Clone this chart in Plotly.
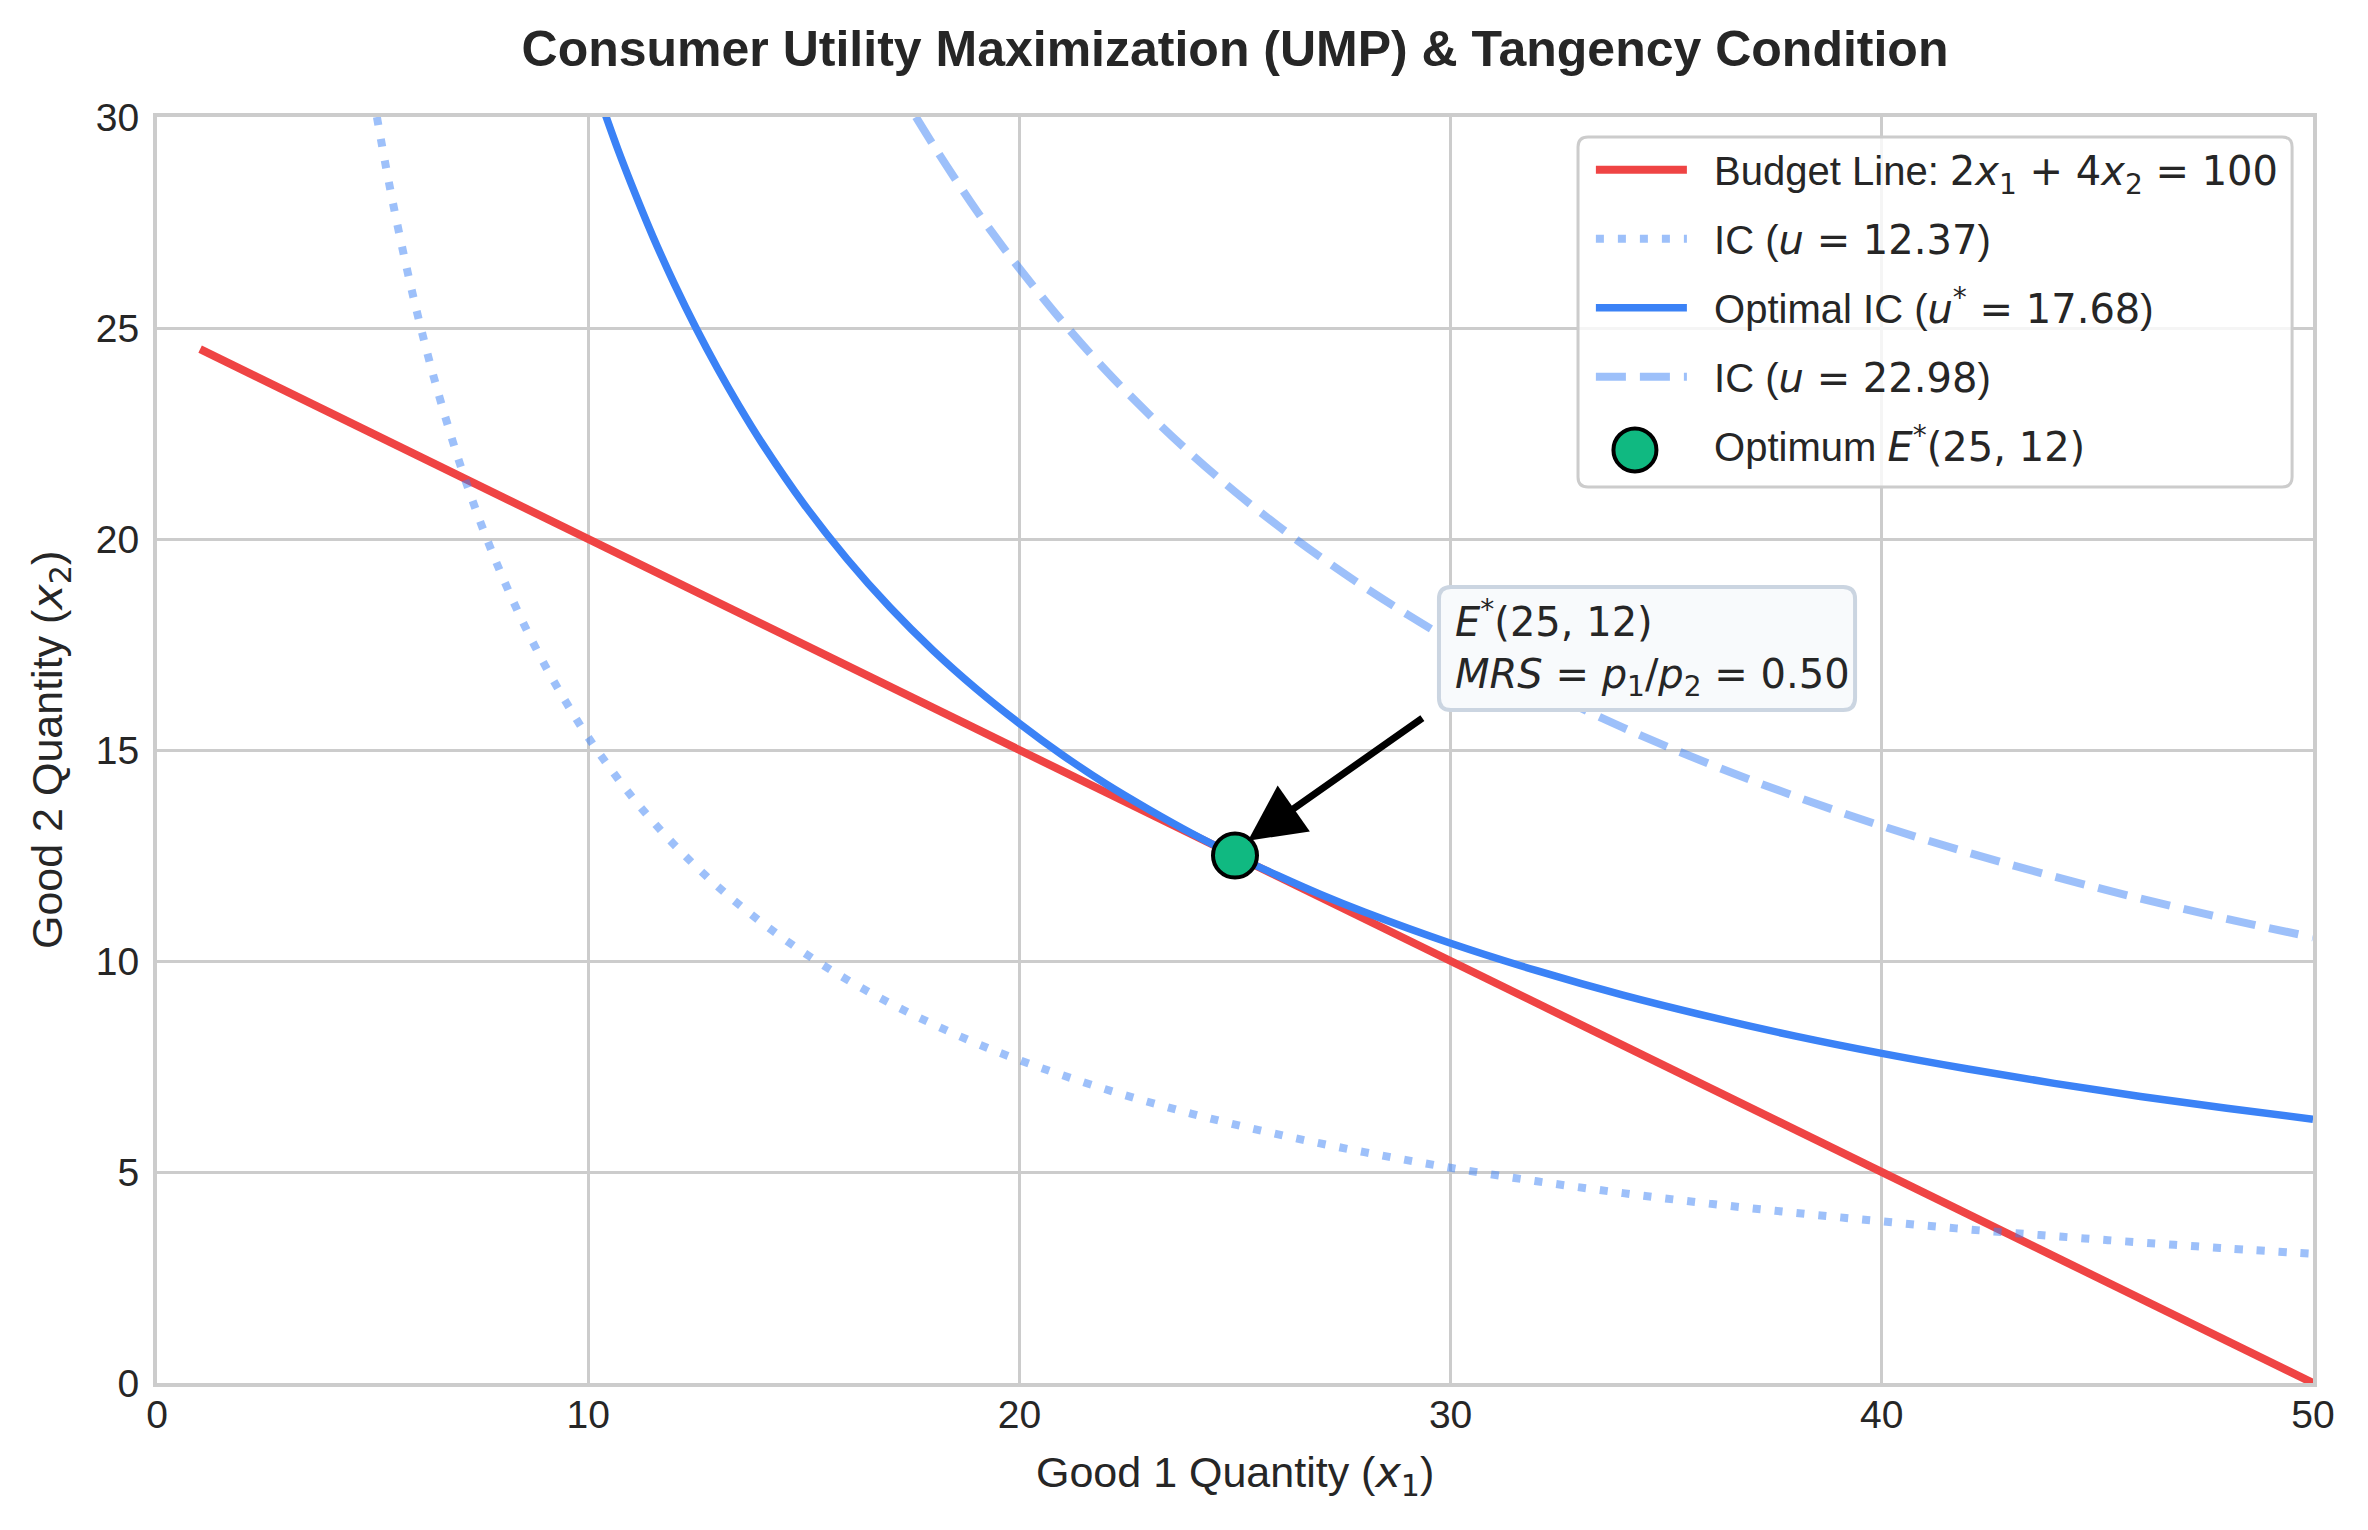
import plotly.graph_objects as go

# ---- data ----
budget_x1 = [1.0, 50.0]
budget_x2 = [24.5, 0.0]

ic_low_x1 = [5.1, 5.3, 5.5, 5.75, 6.0, 6.25, 6.5, 7.0, 7.5, 8.0, 8.5, 9.0, 9.5, 10.0, 11.0, 12.0,
             13.0, 14.0, 15.0, 16.0, 17.0, 18.0, 19.0, 20.0, 22.0, 24.0, 26.0, 28.0, 30.0, 32.0,
             34.0, 36.0, 38.0, 40.0, 42.0, 44.0, 46.0, 48.0, 50.0]
ic_low_x2 = [30.0, 28.87, 27.82, 26.61, 25.5, 24.48, 23.54, 21.86, 20.4, 19.13, 18.0, 17.0, 16.11,
             15.3, 13.91, 12.75, 11.77, 10.93, 10.2, 9.56, 9.0, 8.5, 8.05, 7.65, 6.96, 6.38, 5.89,
             5.47, 5.1, 4.78, 4.5, 4.25, 4.03, 3.83, 3.64, 3.48, 3.33, 3.19, 3.06]

ic_opt_x1 = [10.4, 10.7, 11.0, 11.5, 12.0, 12.5, 13.0, 13.5, 14.0, 15.0, 16.0, 17.0, 18.0, 19.0,
             20.0, 21.0, 22.0, 23.0, 24.0, 25.0, 26.0, 27.0, 28.0, 30.0, 32.0, 34.0, 36.0, 38.0,
             40.0, 42.0, 44.0, 46.0, 48.0, 50.0]
ic_opt_x2 = [30.05, 29.2, 28.41, 27.17, 26.04, 25.0, 24.04, 23.15, 22.32, 20.83, 19.53, 18.38,
             17.36, 16.45, 15.63, 14.88, 14.2, 13.59, 13.02, 12.5, 12.02, 11.57, 11.16, 10.42,
             9.77, 9.19, 8.68, 8.22, 7.81, 7.44, 7.1, 6.79, 6.51, 6.25]

ic_high_x1 = [17.6, 18.0, 18.5, 19.0, 19.5, 20.0, 21.0, 22.0, 23.0, 24.0, 25.0, 26.0, 27.0, 28.0,
              29.0, 30.0, 32.0, 34.0, 36.0, 38.0, 40.0, 42.0, 44.0, 46.0, 48.0, 50.0]
ic_high_x2 = [30.0, 29.34, 28.55, 27.79, 27.08, 26.41, 25.15, 24.0, 22.96, 22.0, 21.12, 20.31,
              19.56, 18.86, 18.21, 17.6, 16.5, 15.53, 14.67, 13.9, 13.2, 12.57, 12.0, 11.48,
              11.0, 10.56]

opt_x1 = [25.0]
opt_x2 = [12.5]

x_ticks = [0, 10, 20, 30, 40, 50]
y_ticks = [0, 5, 10, 15, 20, 25, 30]

# ---- styles ----
SANS = "Liberation Sans, Arial, Helvetica, sans-serif"
MATH = "DejaVu Sans"
TXT = "#262626"
RED = "#ef4444"
BLUE = "#3b82f6"
LBLUE = "rgba(59,130,246,0.5)"
GREEN = "#10b981"
PAD = "&nbsp;&nbsp;"

PLOT_W = 2156.0
PLOT_H = 1266.0


def m(s):
    return '<span style="font-family:DejaVu Sans">' + s + '</span>'


def rrect(x0, x1, y0, y1, rx, ry):
    return (f"M{x0 + rx},{y0} L{x1 - rx},{y0} Q{x1},{y0} {x1},{y0 + ry} "
            f"L{x1},{y1 - ry} Q{x1},{y1} {x1 - rx},{y1} L{x0 + rx},{y1} "
            f"Q{x0},{y1} {x0},{y1 - ry} L{x0},{y0 + ry} Q{x0},{y0} {x0 + rx},{y0} Z")


fig = go.Figure()

fig.add_trace(go.Scatter(
    x=budget_x1, y=budget_x2, mode="lines",
    line=dict(color=RED, width=8),
    name=PAD + "Budget Line: " + m("2<i>x</i><sub>1</sub> + 4<i>x</i><sub>2</sub> = 100"),
    legendgroup="a"))
fig.add_trace(go.Scatter(
    x=ic_low_x1, y=ic_low_x2, mode="lines", line_shape="spline",
    line=dict(color=LBLUE, width=8, dash="8px,14px"),
    name=PAD + "IC (" + m("<i>u</i> = 12.37") + ")", legendgroup="b"))
fig.add_trace(go.Scatter(
    x=ic_opt_x1, y=ic_opt_x2, mode="lines", line_shape="spline",
    line=dict(color=BLUE, width=7.5),
    name=PAD + "Optimal IC (" + m("<i>u</i><sup>*</sup> = 17.68") + ")", legendgroup="c"))
fig.add_trace(go.Scatter(
    x=ic_high_x1, y=ic_high_x2, mode="lines", line_shape="spline",
    line=dict(color=LBLUE, width=8, dash="30px,14px"),
    name=PAD + "IC (" + m("<i>u</i> = 22.98") + ")", legendgroup="d"))
fig.add_trace(go.Scatter(
    x=opt_x1, y=opt_x2, mode="markers",
    marker=dict(color=GREEN, size=44, line=dict(color="black", width=4)),
    name="Optimum", showlegend=False))
# legend entry for the optimum (its big symbol is drawn as a shape below)
fig.add_trace(go.Scatter(
    x=[None], y=[None], mode="markers",
    marker=dict(color="rgba(0,0,0,0)", size=16, line=dict(width=0)),
    name=PAD + "Optimum " + m("<i>E</i><sup>*</sup>(25, 12)"), legendgroup="e"))

axis_common = dict(
    showgrid=True, gridcolor="#cccccc", gridwidth=2.7,
    showline=True, linecolor="#cccccc", linewidth=4, mirror=True,
    zeroline=False,
    tickfont=dict(family=SANS, size=39, color=TXT),
)

fig.update_xaxes(range=[0, 50], tickvals=x_ticks, ticks="", ticklabelstandoff=-6, **axis_common)
fig.update_yaxes(range=[0, 30], tickvals=y_ticks, ticks="outside", ticklen=6,
                 tickcolor="rgba(0,0,0,0)", **axis_common)

shapes = [
    # legend frame (rounded, semi-transparent)
    dict(type="path", xref="paper", yref="paper", layer="above",
         path=rrect(0.6591, 0.9903, 0.7077, 0.9842, 10 / PLOT_W, 10 / PLOT_H),
         fillcolor="rgba(255,255,255,0.8)", line=dict(color="#cccccc", width=3)),
    # legend symbol for the optimum marker
    dict(type="circle", xref="paper", yref="paper", layer="above",
         xsizemode="pixel", ysizemode="pixel", xanchor=0.6855, yanchor=0.7370,
         x0=-21.5, x1=21.5, y0=-21.5, y1=21.5,
         fillcolor=GREEN, line=dict(color="black", width=4)),
    # info box frame (rounded)
    dict(type="path", xref="x", yref="y", layer="above",
         path=rrect(29.73, 39.38, 15.95, 18.86, 12 / 43.12, 12 / 42.2),
         fillcolor="#f8fafc", line=dict(color="#cbd5e1", width=4)),
]

annotations = [
    # axis titles
    dict(text="Good 1 Quantity (" + m("<i>x</i><sub>1</sub>") + ")",
         xref="paper", yref="paper", x=0.5, y=-0.0727, xanchor="center", yanchor="middle",
         showarrow=False, font=dict(family=SANS, size=43, color=TXT)),
    dict(text="Good 2 Quantity (" + m("<i>x</i><sub>2</sub>") + ")",
         xref="paper", yref="paper", x=-0.0496, y=0.5, xanchor="center", yanchor="middle",
         textangle=-90, showarrow=False, font=dict(family=SANS, size=43, color=TXT)),
    # info box text
    dict(text=m("<i>E</i><sup>*</sup>(25, 12)<br><i>MRS</i> = <i>p</i><sub>1</sub>/<i>p</i><sub>2</sub> = 0.50"),
         xref="x", yref="y", x=30.08, y=17.41, xanchor="left", yanchor="middle",
         align="left", showarrow=False, borderpad=0,
         font=dict(family=MATH, size=40, color=TXT)),
    # arrow
    dict(text="", xref="x", yref="y", x=25.3, y=12.85, axref="x", ayref="y",
         ax=29.38, ay=15.78, showarrow=True, arrowhead=2, arrowsize=1.6,
         arrowwidth=7, arrowcolor="black"),
]

fig.update_layout(
    width=2360, height=1522,
    margin=dict(l=149, r=55, t=109, b=147),
    paper_bgcolor="white", plot_bgcolor="white",
    title=dict(text="Consumer Utility Maximization (UMP) &amp; Tangency Condition",
               x=0.5, xref="paper", xanchor="center",
               y=1 - 40 / 1522, yref="container", yanchor="middle",
               font=dict(family=SANS, size=50, color=TXT, weight="bold")),
    legend=dict(x=0.9865, y=0.984, xanchor="right", yanchor="top",
                bgcolor="rgba(0,0,0,0)", borderwidth=0,
                font=dict(family=SANS, size=40, color=TXT),
                tracegroupgap=14, itemwidth=91),
    shapes=shapes,
    annotations=annotations,
    showlegend=True,
)

fig.write_html("out.html")
